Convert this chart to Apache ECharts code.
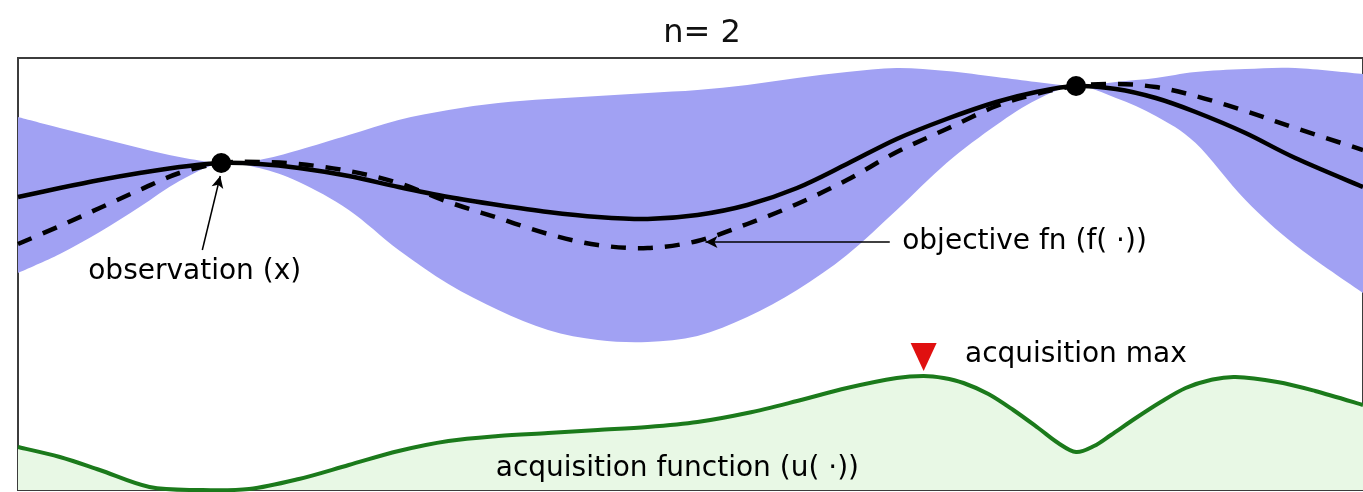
<!DOCTYPE html>
<html>
<head>
<meta charset="utf-8">
<style>html,body{margin:0;padding:0;background:#fff;}#c{width:1363px;height:492px;}</style>
<script src="https://cdn.jsdelivr.net/npm/echarts@6/dist/echarts.min.js"></script>
</head>
<body>
<div id="c"></div>
<script>
// GP posterior (x in plot units, y in plot units)
const xs     = [0, 42, 82, 122, 162, 204, 242, 282, 332, 382, 432, 482, 532, 582, 632, 682, 732, 782, 832, 882, 932, 982, 1022, 1062, 1102, 1142, 1182, 1232, 1282, 1350];
const meanY  = [293, 302, 310, 317, 323, 327, 326, 322, 314, 303, 293, 285, 278, 273, 271, 275, 285, 302, 326, 351, 371, 388, 398, 404, 401, 392, 378, 357, 332, 303];
const trueY  = [246, 264, 282, 300, 317, 327, 328, 326, 319, 307, 288, 272, 256, 245, 242, 249, 266, 286, 310, 338, 361, 384, 396, 404, 406, 403, 394, 379, 362, 340];
const upperY = [373, 362, 352, 342, 333, 327, 330, 340, 355, 370, 380, 387, 391, 394, 397, 400, 405, 412, 418, 422, 419, 413, 408, 404, 408, 412, 418, 421, 422, 416];
const lowerY = [217, 236, 258, 283, 309, 327, 322, 308, 280, 240, 206, 180, 160, 150, 148, 154, 173, 200, 235, 280, 327, 365, 390, 404, 392, 374, 347, 290, 245, 197];
// acquisition function
const acqX = [0, 42, 82, 132, 182, 232, 282, 332, 382, 432, 482, 532, 582, 632, 682, 732, 782, 832, 882, 909, 929, 949, 974, 999, 1024, 1044, 1062, 1080, 1097, 1122, 1147, 1172, 1197, 1222, 1264, 1302, 1350];
const acqY = [43, 33, 20, 3, 0, 1, 11, 25, 39, 49, 54, 57, 60, 63, 68, 77, 89, 102, 112, 114, 112, 107, 96, 80, 62, 47, 38, 44, 55, 72, 88, 102, 110, 113, 108, 99, 85];
// observations and acquisition max
const obsX = [204, 1062];
const obsY = [327, 404];
const maxX = [909];
const maxY = [133];
// annotation texts and anchors
const noteText = ['observation (x)', 'objective fn (f( ·))', 'acquisition max', 'acquisition function (u( ·))'];
const noteX = [70, 887, 950, 479];
const noteY = [218, 248, 135, 21];
const titleText = 'n= 2';

const zip = (a, b) => a.map((v, i) => [v, b[i]]);
const FONT = 'DejaVu Sans';

// Catmull-Rom style cubic path through given pixel points
function smoothPath(pts, first) {
  let d = (first ? 'M' : 'L') + pts[0][0] + ' ' + pts[0][1];
  const n = pts.length, t = 1 / 6;
  for (let i = 0; i < n - 1; i++) {
    const p0 = pts[Math.max(i - 1, 0)], p1 = pts[i], p2 = pts[i + 1], p3 = pts[Math.min(i + 2, n - 1)];
    const c1 = [p1[0] + (p2[0] - p0[0]) * t, p1[1] + (p2[1] - p0[1]) * t];
    const c2 = [p2[0] - (p3[0] - p1[0]) * t, p2[1] - (p3[1] - p1[1]) * t];
    d += ' C' + c1[0] + ' ' + c1[1] + ' ' + c2[0] + ' ' + c2[1] + ' ' + p2[0] + ' ' + p2[1];
  }
  return d;
}

// a smooth curve series (optionally filled down to the x axis)
function curveSeries(name, X, Y, style, fill, z) {
  return {
    type: 'custom', name: name, silent: true, z: z, data: zip(X, Y),
    renderItem: function (params, api) {
      if (params.dataIndex !== 0) return null;
      const pts = X.map((x, i) => api.coord([x, Y[i]]));
      const children = [];
      if (fill) {
        const b1 = api.coord([X[X.length - 1], 0]), b0 = api.coord([X[0], 0]);
        children.push({type: 'path', shape: {pathData: smoothPath(pts, true) + ' L' + b1[0] + ' ' + b1[1] + ' L' + b0[0] + ' ' + b0[1] + ' Z'},
                       style: {fill: fill}});
      }
      children.push({type: 'path', shape: {pathData: smoothPath(pts, true)}, style: Object.assign({fill: null}, style)});
      return {type: 'group', children: children};
    }
  };
}

const chart = echarts.init(document.getElementById('c'), null, {renderer: 'canvas'});
chart.setOption({
  animation: false,
  backgroundColor: '#ffffff',
  title: {
    text: titleText, left: 697, top: 13, textAlign: 'center',
    textStyle: {fontFamily: FONT, fontSize: 32, fontWeight: 'normal', color: '#111'}
  },
  grid: {left: 18, top: 58, width: 1350, height: 432, show: true, borderColor: '#3c3c3c', borderWidth: 2, backgroundColor: 'transparent', containLabel: false},
  xAxis: {type: 'value', min: 0, max: 1350, show: false},
  yAxis: {type: 'value', min: 0, max: 432, show: false},
  series: [
    {type: 'custom', name: 'band', silent: true, z: 1, data: zip(xs, meanY),
     renderItem: function (params, api) {
       if (params.dataIndex !== 0) return null;
       const up = xs.map((x, i) => api.coord([x, upperY[i]]));
       const lo = xs.map((x, i) => api.coord([x, lowerY[i]])).reverse();
       const d = smoothPath(up, true) + ' ' + smoothPath(lo, false) + ' Z';
       return {type: 'path', shape: {pathData: d}, style: {fill: '#a1a1f3'}};
     }},
    curveSeries('acquisition', acqX, acqY, {stroke: '#1b7a1b', lineWidth: 4}, '#e8f8e5', 2),
    curveSeries('mean', xs, meanY, {stroke: '#000', lineWidth: 4.5}, null, 3),
    curveSeries('objective', xs, trueY, {stroke: '#000', lineWidth: 4.5, lineDash: [15, 12]}, null, 3),
    {type: 'scatter', name: 'obs', data: zip(obsX, obsY), symbol: 'circle', symbolSize: 20,
     itemStyle: {color: '#000', opacity: 1}, z: 5,
     markLine: {
       silent: true, symbol: ['none', 'arrow'], symbolSize: [9, 12], animation: false,
       label: {show: false},
       lineStyle: {color: '#000', width: 1.5, type: 'solid'},
       data: [
         [{coord: [185, 240]}, {coord: [203, 314]}],
         [{coord: [875, 248]}, {coord: [690, 248]}]
       ]
     }},
    {type: 'scatter', name: 'max', data: zip(maxX, maxY), symbol: 'triangle', symbolRotate: 180, symbolSize: [26, 28],
     itemStyle: {color: '#e01010', opacity: 1}, z: 5},
    {type: 'scatter', name: 'notes', data: noteX.map((x, i) => ({value: [x, noteY[i]], name: noteText[i]})),
     symbolSize: 1, itemStyle: {color: 'rgba(0,0,0,0)'}, z: 6, silent: true,
     label: {show: true, position: 'right', distance: 0, formatter: p => p.name,
             fontFamily: FONT, fontSize: 28, color: '#000', opacity: 1}}
  ]
});
</script>
</body>
</html>
